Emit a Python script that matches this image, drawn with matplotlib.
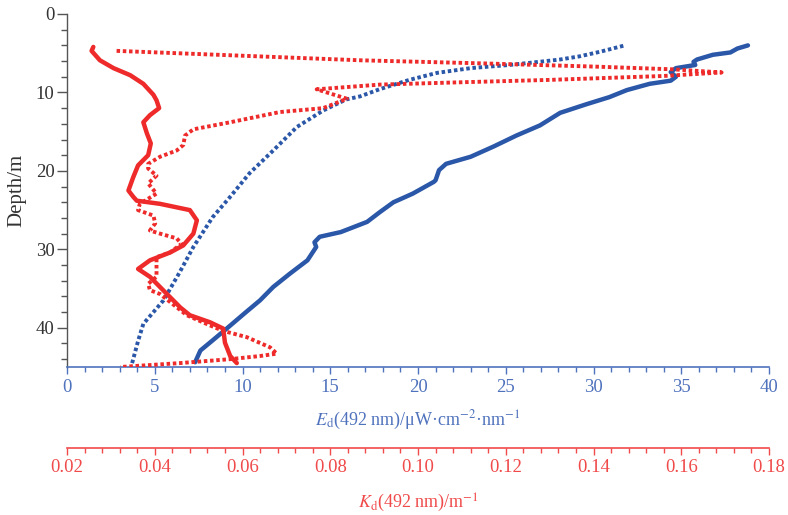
import matplotlib
matplotlib.use("Agg")
import matplotlib.pyplot as plt
from matplotlib.ticker import MultipleLocator

plt.rcParams['font.family'] = ['Liberation Serif', 'DejaVu Serif']
plt.rcParams['mathtext.fontset'] = 'stix'

# Ed solid (Ed, depth)
ed_solid_val = [38.8, 38.2, 37.8, 36.8, 35.9, 35.7, 35.8, 34.7, 34.4, 34.7, 34.4, 33.2, 31.9, 30.9, 29.6,
                28.1, 26.95, 25.6, 24.3, 23.0, 21.6, 21.2, 21.0, 20.9, 19.7, 18.6, 17.8, 17.1, 15.6, 14.4,
                14.1, 14.2, 13.7, 12.7, 11.75, 11.0, 10.2, 9.1, 8.3, 7.6, 7.3]
ed_solid_depth = [4.0, 4.4, 4.9, 5.2, 5.8, 6.1, 6.5, 6.9, 7.4, 8.0, 8.5, 8.9, 9.7, 10.6, 11.5,
                  12.6, 14.2, 15.5, 16.9, 18.2, 19.1, 19.9, 21.2, 21.4, 22.9, 24.0, 25.3, 26.5, 27.8, 28.4,
                  29.1, 29.7, 31.4, 33.1, 34.8, 36.5, 38.0, 40.1, 41.6, 42.9, 44.4]

# Ed dotted
ed_dot_val = [31.7, 30.4, 29.2, 28.1, 27.3, 25.2, 23.0, 21.1, 19.5, 17.8, 16.7, 15.9, 14.6, 13.1, 11.75,
              10.4, 9.3, 8.3, 7.2, 6.4, 5.5, 4.35, 4.06, 3.7]
ed_dot_depth = [4.05, 4.8, 5.4, 5.8, 6.0, 6.5, 6.9, 7.5, 8.4, 9.6, 10.5, 10.9, 12.3, 14.4, 17.4,
                20.3, 23.3, 25.9, 29.7, 33.0, 36.5, 39.5, 41.6, 44.6]

# Kd solid
kd_solid_val = [0.0260, 0.0256, 0.0275, 0.0306, 0.0344, 0.0374, 0.0397, 0.0404, 0.0410, 0.0389, 0.0374,
                0.0382, 0.0391, 0.0385, 0.0362, 0.0351, 0.0340, 0.0351, 0.0359, 0.0412, 0.0480, 0.0496,
                0.0488, 0.0465, 0.0435, 0.0389, 0.0362, 0.0389, 0.0419, 0.0458, 0.0480, 0.0526, 0.0556,
                0.0560, 0.0572, 0.0587]
kd_solid_depth = [4.2, 4.7, 5.9, 6.9, 7.8, 8.9, 10.3, 11.0, 12.0, 12.9, 13.8,
                  15.2, 16.5, 18.0, 19.3, 20.8, 22.5, 23.3, 23.8, 24.2, 25.0, 26.3,
                  28.0, 29.5, 30.4, 31.4, 32.5, 33.5, 35.2, 37.4, 38.4, 39.3, 40.1,
                  41.9, 43.6, 44.5]

# Kd dotted
kd_dot_val = [0.0313, 0.0868, 0.1150, 0.1400, 0.1580, 0.1692, 0.1560, 0.1300, 0.1100, 0.0913, 0.0769,
              0.0838, 0.0784, 0.0685, 0.0572, 0.0488, 0.0469, 0.0465, 0.0450, 0.0412, 0.0385, 0.0385,
              0.0404, 0.0385, 0.0404, 0.0366, 0.0362, 0.0397, 0.0401, 0.0389, 0.0412, 0.0450, 0.0461,
              0.0435, 0.0404, 0.0404, 0.0385, 0.0389, 0.0412, 0.0446, 0.0473, 0.0526, 0.0556, 0.0610,
              0.0663, 0.0678, 0.0640, 0.0572, 0.0458, 0.0321]
kd_dot_depth = [4.7, 5.9, 6.3, 6.7, 7.05, 7.45, 7.9, 8.4, 8.7, 9.0, 9.6,
                10.8, 12.0, 12.5, 13.8, 14.7, 15.5, 16.7, 17.4, 18.2, 19.1, 19.7,
                20.6, 21.6, 22.9, 24.2, 25.0, 25.7, 26.7, 27.6, 28.0, 28.6, 29.3,
                30.4, 31.0, 33.5, 34.4, 35.2, 35.7, 37.2, 38.4, 39.7, 40.4, 41.2,
                42.5, 43.3, 43.6, 44.0, 44.5, 45.0]

ed_ticks = [0, 5, 10, 15, 20, 25, 30, 35, 40]
kd_ticks = [0.02, 0.04, 0.06, 0.08, 0.10, 0.12, 0.14, 0.16, 0.18]
depth_ticks = [0, 10, 20, 30, 40]

BLUE = '#2b57a8'
BLUE_AX = '#4f72bd'
RED = '#ee2a2a'
RED_AX = '#f04a4a'
GREY = '#555555'

fig = plt.figure(figsize=(7.88, 5.15), dpi=100)
ax = fig.add_axes([67/788, 1-367/515, (769-67)/788, (367-14)/515])
ax2 = ax.twiny()

ax.plot(ed_dot_val, ed_dot_depth, color=BLUE, lw=2.8, linestyle=(0, (0.9, 0.7)), solid_capstyle='butt')
ax.plot(ed_solid_val, ed_solid_depth, color=BLUE, lw=3.2, solid_joinstyle='round', solid_capstyle='round')
ax2.plot(kd_dot_val, kd_dot_depth, color=RED, lw=2.8, linestyle=(0, (0.9, 0.7)))
ax2.plot(kd_solid_val, kd_solid_depth, color=RED, lw=3.2, solid_joinstyle='round', solid_capstyle='round')

ax.set_ylim(45, 0)
ax.set_xlim(0, 40)
ax2.set_xlim(0.02, 0.18)

for s in ['top', 'right']:
    ax.spines[s].set_visible(False)
    ax2.spines[s].set_visible(False)
ax2.spines['left'].set_visible(False)
ax.spines['left'].set_color(GREY)
ax.spines['bottom'].set_color(BLUE_AX)
ax.spines['left'].set_linewidth(1.0)
ax.spines['bottom'].set_linewidth(1.2)

ax.set_yticks(depth_ticks)
ax.yaxis.set_minor_locator(MultipleLocator(2))
ax.set_xticks(ed_ticks)
ax.xaxis.set_minor_locator(MultipleLocator(1))
ax.tick_params(axis='y', which='major', direction='out', length=7, width=1, color=GREY, labelsize=13.5, labelcolor='#333333', pad=2)
ax.tick_params(axis='y', which='minor', direction='out', length=4, width=1, color=GREY)
ax.tick_params(axis='x', which='major', direction='out', length=5, width=1, color=BLUE_AX, labelsize=13.5, labelcolor=BLUE_AX, pad=4)
ax.tick_params(axis='x', which='minor', direction='out', length=3.5, width=1, color=BLUE_AX)
ax.set_ylabel('Depth/m', fontsize=15, color='#333333', labelpad=7)
ax.set_xlabel(r'$E_{\rm d}$(492 nm)/μW·cm$^{-2}$·nm$^{-1}$', fontsize=13, color=BLUE_AX, labelpad=9)

ax2.xaxis.set_ticks_position('bottom')
ax2.xaxis.set_label_position('bottom')
ax2.spines['bottom'].set_position(('outward', 58.5))
ax2.spines['bottom'].set_color(RED_AX)
ax2.spines['bottom'].set_linewidth(1.2)
ax2.set_xticks(kd_ticks)
ax2.set_xticklabels(['%.2f' % v for v in kd_ticks])
ax2.xaxis.set_minor_locator(MultipleLocator(0.004))
ax2.tick_params(axis='x', which='major', direction='out', length=5, width=1, color=RED_AX, labelsize=13.5, labelcolor=RED_AX, pad=3)
ax2.tick_params(axis='x', which='minor', direction='out', length=3.5, width=1, color=RED_AX)
ax2.set_xlabel(r'$K_{\rm d}$(492 nm)/m$^{-1}$', fontsize=13, color=RED_AX, labelpad=11)

fig.savefig('out.png', dpi=100)
